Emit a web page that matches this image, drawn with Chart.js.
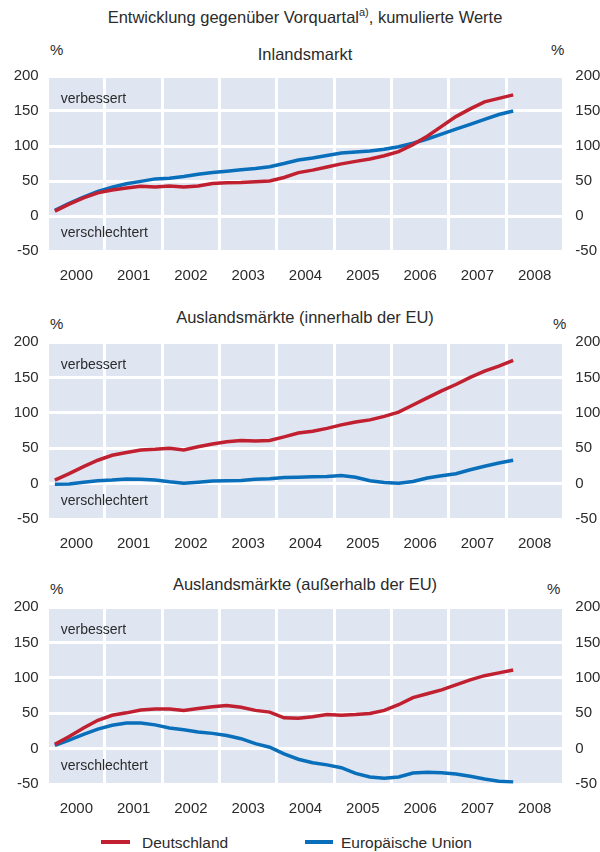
<!DOCTYPE html>
<html><head><meta charset="utf-8">
<script src="https://cdn.jsdelivr.net/npm/chart.js@4.4.1/dist/chart.umd.min.js"></script>
<style>
html,body{margin:0;padding:0;background:#fff;}
#page{position:relative;width:600px;height:852px;font-family:'Liberation Sans',Arial,sans-serif;color:#2b2b2b;overflow:hidden;}
.t{position:absolute;white-space:nowrap;line-height:1;font-size:15px;}
.ctr{left:0;width:610px;text-align:center;}
.pt{font-size:16.5px;}
canvas{position:absolute;left:0;}
.lg{position:absolute;height:4px;top:840px;}
</style></head><body>
<div id="page">
  <div class="t ctr" style="top:9px;font-size:16.5px;">Entwicklung gegenüber Vorquartal<sup style="font-size:11px;vertical-align:7px;line-height:0;">a)</sup>, kumulierte Werte</div>

  <div class="t ctr pt" style="top:46px;">Inlandsmarkt</div>
  <div class="t" style="top:42px;left:50px;">%</div>
  <div class="t" style="top:42px;left:551px;">%</div>
  <canvas id="c1" width="600" height="236" style="top:55px;"></canvas>

  <div class="t ctr pt" style="top:309px;">Auslandsmärkte (innerhalb der EU)</div>
  <div class="t" style="top:316px;left:50px;">%</div>
  <div class="t" style="top:316px;left:553px;">%</div>
  <canvas id="c2" width="600" height="238" style="top:321px;"></canvas>

  <div class="t ctr pt" style="top:576px;">Auslandsmärkte (außerhalb der EU)</div>
  <div class="t" style="top:581px;left:50px;">%</div>
  <div class="t" style="top:581px;left:547px;">%</div>
  <canvas id="c3" width="600" height="238" style="top:586px;"></canvas>

  <div class="lg" style="left:101px;width:29px;background:#c0202f;"></div>
  <div class="t" style="top:834.5px;left:142px;font-size:15.5px;">Deutschland</div>
  <div class="lg" style="left:305px;width:28px;background:#0a6fba;"></div>
  <div class="t" style="top:834.5px;left:341px;font-size:15.5px;">Europäische Union</div>
</div>
<script>
// ---- data ----
const quarters = [
  '2000 Q1','2000 Q2','2000 Q3','2000 Q4',
  '2001 Q1','2001 Q2','2001 Q3','2001 Q4',
  '2002 Q1','2002 Q2','2002 Q3','2002 Q4',
  '2003 Q1','2003 Q2','2003 Q3','2003 Q4',
  '2004 Q1','2004 Q2','2004 Q3','2004 Q4',
  '2005 Q1','2005 Q2','2005 Q3','2005 Q4',
  '2006 Q1','2006 Q2','2006 Q3','2006 Q4',
  '2007 Q1','2007 Q2','2007 Q3','2007 Q4',
  '2008 Q1'
];
const years = [2000, 2001, 2002, 2003, 2004, 2005, 2006, 2007, 2008];
const yTicks = [-50, 0, 50, 100, 150, 200];

const inlandDE = [7,17,26,33,37,40,42.5,41.5,43,41.5,43,46.5,47.5,48,49,50,55,62,65.5,70,74.5,78,81.5,86,92,102,114,128,142,153,163,168,173];
const inlandEU = [8,18,27,35,41,46,49.5,53,54,56.5,59.5,62,64,66,68,70.5,75,80,83,86.5,90,91.5,93,95.5,99,104,110,117,124,131,138,145,150];

const innerDE = [5,14,24,33,40,44,47.5,48.5,50,47.5,52,56,59,61,60,61,66,71.5,74,78,83,87,90,95,101,111,121,131,140,150,159,166,174];
const innerEU = [-1,-0.5,2,4,5,6.5,6,5,2.5,0.5,2,3.5,4,4.5,6,7,8.5,9,9.5,10,11.5,9,4,1.5,0.5,3,8,11,14,19.5,24.5,29,33];

const outerDE = [6,17,29,40,47,50.5,54.5,56,56,54,56.5,59,61,58.5,54,51.5,43.5,43,45,48,47,48,49.5,54,62,72,77.5,83,90,97,103,107,111];
const outerEU = [4.5,12,20,27.5,33,36,36,33.5,29,26.5,23.5,21.5,18.5,14,7,2,-7.5,-15,-20,-23,-27,-35,-40,-42,-40,-34.5,-33.5,-34,-36,-39,-43,-46,-47];

// ---- styling ----
const RED = '#c0202f';
const BLUE = '#0a6fba';
const BG = '#dfe6f2';
const TXT = '#2b2b2b';
const FONT = "'Liberation Sans', Arial, sans-serif";

Chart.defaults.font.family = FONT;
Chart.defaults.font.size = 15;
Chart.defaults.color = TXT;

function quarterToX(q) {
  const parts = q.split(' Q');
  return Number(parts[0]) + (Number(parts[1]) - 0.5) / 4;
}
function series(vals) {
  return quarters.map((q, i) => ({ x: quarterToX(q), y: vals[i] }));
}

const bgPlugin = {
  id: 'bg',
  beforeDraw(chart) {
    const { ctx, chartArea: a } = chart;
    ctx.save();
    ctx.fillStyle = BG;
    ctx.fillRect(a.left, a.top, a.right - a.left, a.bottom - a.top);
    ctx.restore();
  }
};
const notePlugin = {
  id: 'notes',
  beforeDatasetsDraw(chart) {
    const { ctx, chartArea: a } = chart;
    const y = chart.scales.y;
    ctx.save();
    ctx.font = "14px " + FONT;
    ctx.fillStyle = TXT;
    ctx.textBaseline = 'middle';
    ctx.textAlign = 'left';
    ctx.fillText('verbessert', a.left + 13, y.getPixelForValue(167));
    ctx.fillText('verschlechtert', a.left + 13, y.getPixelForValue(-25));
    ctx.restore();
  }
};

function makePanel(id, de, eu, padTop) {
  const yBase = {
    min: yTicks[0], max: yTicks[yTicks.length - 1],
    border: { display: false },
    afterBuildTicks(s) { s.ticks = yTicks.map(v => ({ value: v })); }
  };
  new Chart(document.getElementById(id), {
    type: 'line',
    data: {
      datasets: [
        { label: 'Deutschland', data: series(de), borderColor: RED, backgroundColor: RED, borderWidth: 3.5, pointRadius: 0, tension: 0, fill: false, yAxisID: 'y' },
        { label: 'Europäische Union', data: series(eu), borderColor: BLUE, backgroundColor: BLUE, borderWidth: 3.5, pointRadius: 0, tension: 0, fill: false, yAxisID: 'y' }
      ]
    },
    options: {
      responsive: false,
      animation: false,
      layout: { padding: { top: padTop, left: 0, right: 0, bottom: 0 } },
      plugins: { legend: { display: false }, tooltip: { enabled: false } },
      scales: {
        x: {
          type: 'linear', min: years[0], max: years[years.length - 1] + 1,
          border: { display: false },
          afterBuildTicks(s) {
            const t = [];
            years.forEach(y => { t.push({ value: y }); t.push({ value: y + 0.5 }); });
            t.push({ value: years[years.length - 1] + 1 });
            s.ticks = t;
          },
          ticks: {
            autoSkip: false, maxRotation: 0, minRotation: 0, padding: 16,
            callback(v) { return Number.isInteger(v) ? '' : String(Math.floor(v)); }
          },
          grid: {
            drawTicks: false, tickLength: 0, lineWidth: 3,
            color: c => (c.tick && Number.isInteger(c.tick.value)) ? '#ffffff' : 'rgba(0,0,0,0)'
          },
          afterFit(s) { s.height = 40; }
        },
        y: Object.assign({}, yBase, {
          position: 'left',
          ticks: { padding: 9 },
          grid: { color: '#ffffff', lineWidth: 3, drawTicks: false, tickLength: 0 },
          afterFit(s) { s.width = 47.7; }
        }),
        y2: Object.assign({}, yBase, {
          position: 'right',
          ticks: { padding: 12 },
          grid: { display: false, drawTicks: false, tickLength: 0 },
          afterFit(s) { s.width = 36.7; }
        })
      }
    },
    plugins: [bgPlugin, notePlugin]
  });
}

makePanel('c1', inlandDE, inlandEU, 12.5);
makePanel('c2', innerDE, innerEU, 12.7);
makePanel('c3', outerDE, outerEU, 12.6);
</script>
</body></html>
